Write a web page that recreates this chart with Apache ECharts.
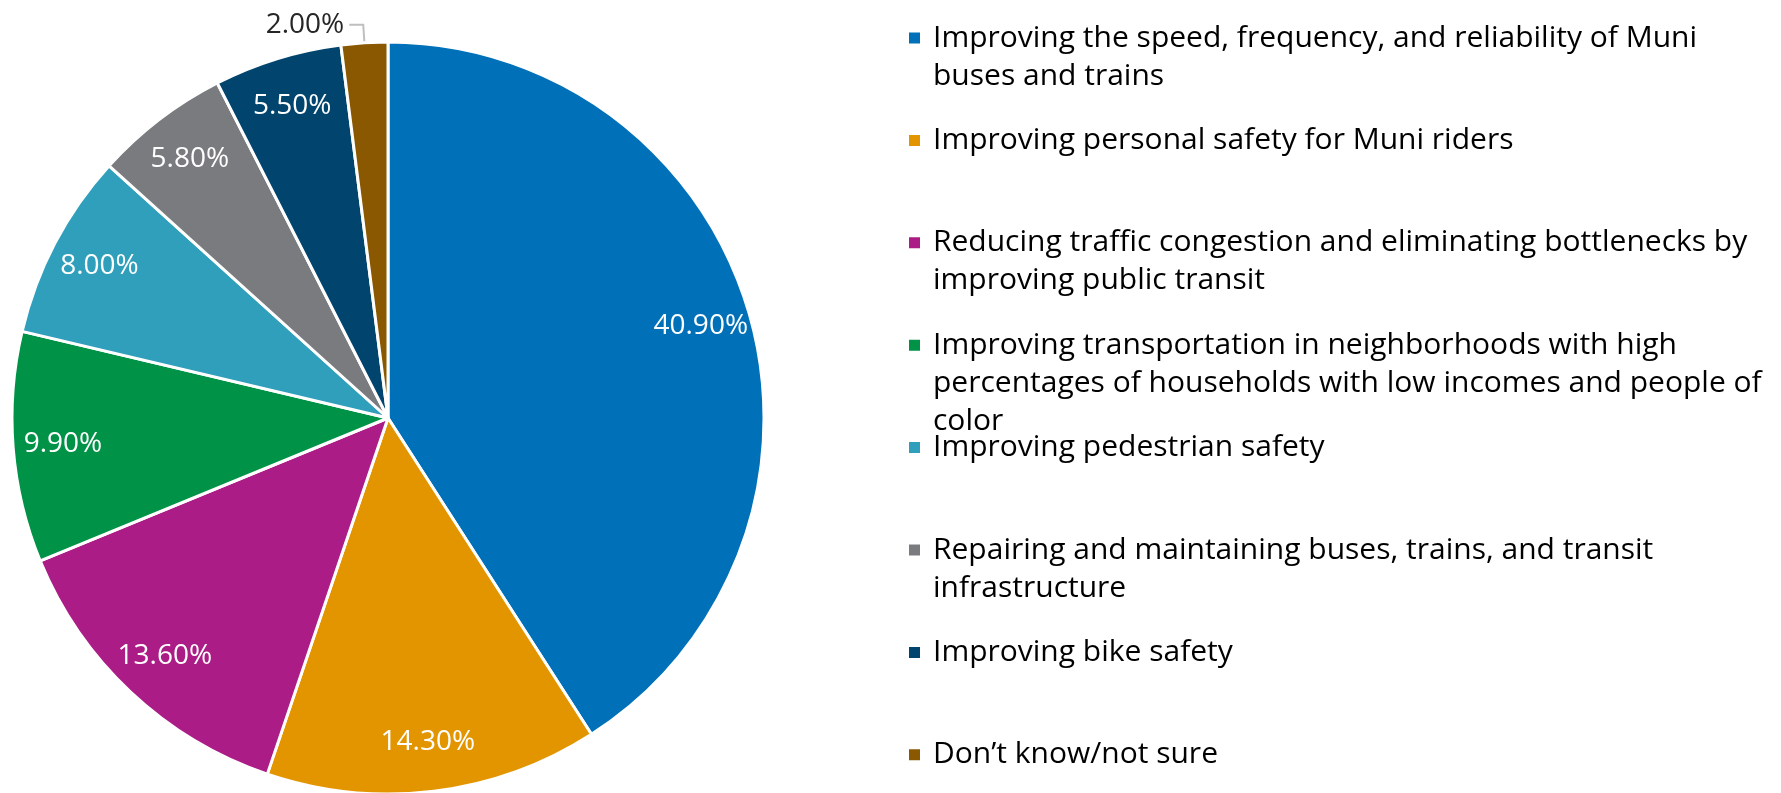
<!DOCTYPE html>
<html>
<head>
<meta charset="utf-8">
<script src="https://cdn.jsdelivr.net/npm/echarts@6/dist/echarts.min.js"></script>
<style>
  html, body { margin: 0; padding: 0; background: #fff; }
  #chart { width: 1781px; height: 793px; }
</style>
</head>
<body>
<div id="chart"></div>
<script>
// data
var categories = [
  'Improving the speed, frequency, and reliability of Muni\nbuses and trains',
  'Improving personal safety for Muni riders',
  'Reducing traffic congestion and eliminating bottlenecks by\nimproving public transit',
  'Improving transportation in neighborhoods with high\npercentages of households with low incomes and people of\ncolor',
  'Improving pedestrian safety',
  'Repairing and maintaining buses, trains, and transit\ninfrastructure',
  'Improving bike safety',
  'Don\u2019t know/not sure'
];
var values = [40.9, 14.3, 13.6, 9.9, 8.0, 5.8, 5.5, 2.0];
var colors = ['#0071b9', '#e39500', '#ab1c86', '#009246', '#2f9fbb', '#7a7b7f', '#01446e', '#8a5800'];

var FONT = '"Open Sans", "Noto Sans", sans-serif';
var LINE_H = 38;
var LEGEND_TOP = 37;     // centre of first marker
var LEGEND_STEP = 102.4; // fixed slot per entry, long entries hang over the next one

var myChart = echarts.init(document.getElementById('chart'));

var sliceData = categories.map(function (name, i) {
  return { name: name, value: values[i], itemStyle: { color: colors[i] } };
});

// second, invisible ring only carries the percentage labels (placed further out)
var labelData = categories.map(function (name, i) {
  var item = { name: name, value: values[i] };
  if (values[i] < 3) {
    item.label = { position: 'outside', color: '#262626' };
    item.labelLine = { show: true };
  }
  return item;
});

// one legend per entry: marker lines up with the first text line
var legends = categories.map(function (name, i) {
  var lines = name.split('\n').length;
  var h = lines * LINE_H;
  return {
    orient: 'vertical',
    left: 907,
    top: LEGEND_TOP + i * LEGEND_STEP - LINE_H / 2,
    padding: 0,
    itemWidth: 20,
    itemHeight: h,
    icon: 'path://M0,12.5 L13,12.5 L13,25.5 L0,25.5 Z M20,0 M20,' + h,
    selectedMode: false,
    data: [name],
    textStyle: {
      fontFamily: FONT,
      fontSize: 30,
      lineHeight: LINE_H,
      color: '#000'
    }
  };
});

var option = {
  animation: false,
  color: colors,
  legend: legends,
  series: [{
    name: 'slices',
    type: 'pie',
    center: [388, 418],
    radius: [0, 376],
    startAngle: 90,
    clockwise: true,
    silent: true,
    label: { show: false },
    labelLine: { show: false },
    itemStyle: { borderColor: '#fff', borderWidth: 3 },
    data: sliceData
  }, {
    name: 'labels',
    type: 'pie',
    center: [388, 418],
    radius: [270, 376],
    startAngle: 90,
    clockwise: true,
    silent: true,
    avoidLabelOverlap: false,
    itemStyle: { color: 'rgba(0,0,0,0)', borderWidth: 0 },
    label: {
      show: true,
      position: 'inside',
      color: '#fff',
      fontFamily: FONT,
      fontSize: 28,
      formatter: function (p) { return p.value.toFixed(2) + '%'; }
    },
    labelLine: {
      show: false,
      length: 18,
      length2: 14,
      lineStyle: { color: '#bfbfbf', width: 2 }
    },
    data: labelData
  }]
};

myChart.setOption(option);
</script>
</body>
</html>
